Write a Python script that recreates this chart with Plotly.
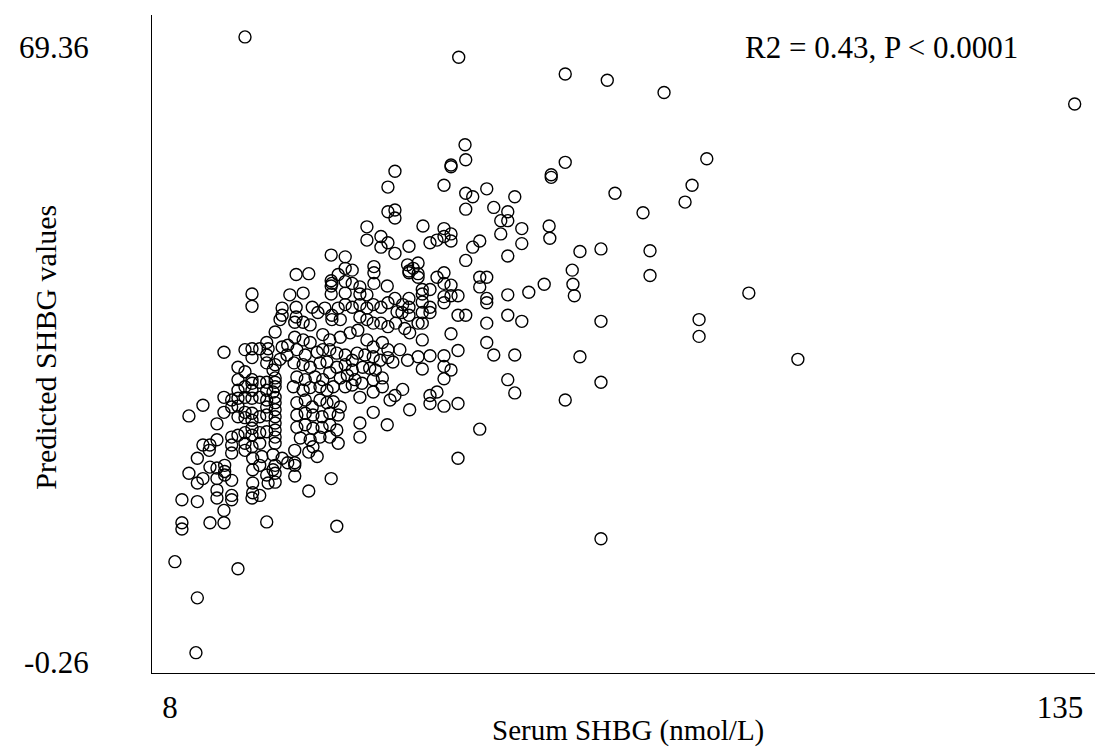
import plotly.graph_objects as go

# ---- data (Serum SHBG, Predicted SHBG) ----
x_outer = [18.7, 49.2, 64.4, 70.4, 78.5, 137.1, 50.1, 84.6, 82.5, 81.5, 71.5, 75.5, 64.4, 62.4, 62.4,
           62.1, 62.2, 66.5, 69.5, 76.5, 76.5, 65.4, 65.5, 65.7, 61.4, 90.6, 69.5, 83.5, 83.5, 97.6,
           66.5, 64.4, 69.5, 69.5, 11.7]
y_outer = [70.5, 68.2, 66.3, 65.6, 64.2, 62.9, 58.3, 56.7, 53.7, 51.8, 52.8, 50.6, 56.3, 54.9, 54.6,
           49.1, 47.7, 46.2, 46.5, 46.3, 43.5, 44.1, 42.5, 41.2, 42.5, 41.5, 38.3, 38.5, 36.6, 34.0,
           34.3, 29.4, 31.4, 13.7, 0.8]

x_upmid = [19.7, 40.1, 39.1, 39.1, 40.1, 40.1, 36.1, 36.1, 38.1, 38.1, 39.1, 40.1, 42.1, 31.0, 33.0,
           26.0, 27.8, 33.0, 34.0, 37.1, 37.1, 32.0, 31.0, 31.1, 31.0, 33.0, 34.0, 35.1, 37.1, 39.0,
           41.9, 42.1, 42.1, 42.7, 27.0, 25.1, 31.0, 33.0, 35.1, 36.1, 40.1, 42.1]
y_upmid = [41.4, 55.3, 53.5, 50.7, 50.9, 50.0, 49.0, 47.5, 47.9, 46.7, 47.2, 46.0, 46.8, 45.8, 45.6,
           43.6, 43.7, 44.3, 44.1, 44.5, 43.8, 43.6, 42.9, 42.6, 42.3, 42.8, 42.6, 42.2, 42.6, 42.3,
           44.7, 44.0, 43.8, 44.3, 41.5, 41.3, 41.4, 41.5, 41.4, 41.3, 40.9, 40.9]

x_upright = [50.2, 48.1, 48.1, 47.1, 50.2, 51.2, 53.2, 57.2, 50.2, 54.2, 56.2, 55.2, 56.2, 58.2, 55.2,
             58.2, 44.1, 47.1, 48.1, 47.1, 48.1, 45.1, 46.1, 52.2, 51.2, 56.2, 50.2, 43.4, 43.4, 43.4,
             46.1, 47.1, 47.1, 48.1, 52.2, 53.2, 52.2, 44.0, 44.0, 45.1, 47.1, 49.1, 48.1, 53.2, 56.2,
             59.2]
y_upright = [56.6, 55.8, 56.0, 53.7, 52.8, 52.4, 53.3, 52.4, 51.0, 51.2, 50.7, 49.7, 49.7, 48.8, 48.2,
             47.1, 49.1, 48.8, 48.2, 47.9, 47.4, 47.2, 47.5, 47.4, 46.7, 45.7, 45.2, 44.9, 43.7, 43.3,
             43.3, 43.8, 42.6, 42.4, 43.3, 43.3, 42.2, 41.9, 41.4, 41.9, 41.1, 41.2, 41.2, 40.9, 41.3,
             41.6]

x_midright = [44.0, 45.1, 44.0, 45.1, 44.0, 43.4, 47.1, 49.1, 50.2, 53.2, 56.2, 58.2, 53.2, 48.1, 44.0,
              53.2, 49.1, 54.2, 57.2, 43.4, 45.1, 47.1, 44.0, 47.1, 48.1, 47.1, 56.2, 57.2, 45.1, 46.1,
              45.1, 47.1, 49.1, 52.2, 49.1]
y_midright = [40.5, 39.9, 39.3, 39.3, 38.1, 38.1, 40.4, 39.0, 39.0, 40.4, 39.0, 38.3, 38.1, 36.9, 36.2,
              35.9, 35.0, 34.5, 34.5, 34.3, 34.4, 34.4, 32.9, 33.2, 32.8, 31.8, 31.7, 30.2, 29.9, 30.3,
              29.0, 28.7, 29.0, 26.1, 22.8]

x_low = [25.8, 25.8, 25.8, 27.8, 29.0, 25.8, 31.0, 27.8, 31.8, 11.9, 13.7, 14.7, 15.8, 15.8, 15.8,
         16.8, 16.8, 10.7, 11.9, 12.7, 14.7, 14.7, 14.7, 16.8, 16.8, 15.7, 9.7, 11.9, 9.7, 9.7,
         13.7, 15.7, 21.8, 8.7, 17.7, 11.9, 18.7, 19.8, 19.8, 19.8, 19.8, 19.7, 20.8, 21.1, 20.8,
         22.7, 23.0, 24.0, 22.7, 23.0, 23.0, 21.8, 22.0, 24.8, 13.6]
y_low = [23.7, 22.3, 22.0, 23.5, 23.0, 20.8, 20.5, 19.1, 15.1, 22.8, 21.8, 21.7, 22.0, 21.3, 20.9,
         23.4, 20.3, 21.1, 20.0, 20.5, 20.5, 19.2, 18.3, 18.6, 18.1, 16.9, 18.1, 17.9, 15.5, 14.8,
         15.5, 15.5, 15.6, 11.1, 10.3, 7.0, 23.7, 22.8, 21.5, 20.0, 18.9, 18.3, 18.6, 23.0, 22.0,
         23.2, 22.0, 22.8, 21.5, 21.1, 20.1, 20.9, 20.0, 22.3, 23.7]

x_left = [19.7, 24.0, 24.0, 23.7, 23.0, 15.7, 18.7, 19.7, 19.7, 20.8, 21.8, 22.0, 21.8, 24.0, 24.8,
          24.7, 23.7, 21.8, 23.0, 22.7, 23.0, 23.0, 23.0, 22.7, 23.0, 23.0, 23.0, 23.0, 23.0, 23.0,
          23.0, 23.0, 17.7, 18.7, 19.7, 19.7, 17.7, 18.7, 17.7, 19.7, 20.8, 21.8, 21.8, 21.8, 21.8,
          21.8, 15.7, 16.8, 17.7, 18.7, 19.7, 20.8, 12.7, 10.7, 14.7, 15.7, 16.8, 17.7, 18.7, 19.7,
          18.7, 19.7, 17.7, 20.8, 14.7, 12.7, 13.7, 16.8, 16.8, 17.7, 18.7, 19.7, 19.7, 20.8, 18.7,
          20.8, 19.7, 21.8]
y_left = [40.0, 39.8, 39.0, 38.5, 37.1, 34.8, 35.1, 35.2, 34.2, 35.2, 35.9, 35.2, 34.5, 35.4, 35.6,
          34.5, 34.0, 33.6, 33.4, 32.8, 31.9, 31.4, 30.9, 30.3, 29.7, 29.1, 28.3, 27.5, 26.8, 26.0,
          25.2, 24.5, 33.1, 32.6, 31.7, 31.3, 31.7, 30.9, 30.5, 30.5, 31.4, 31.4, 30.5, 29.4, 28.6,
          27.7, 29.7, 29.4, 29.6, 29.7, 29.6, 29.7, 28.8, 27.6, 26.7, 28.0, 28.6, 28.7, 28.0, 27.9,
          27.4, 27.1, 27.5, 27.5, 24.9, 24.3, 24.3, 25.2, 24.3, 25.4, 25.7, 26.2, 25.4, 25.7, 24.5,
          24.5, 24.1, 25.8]

x_core_a = [26.0, 26.0, 28.3, 29.1, 30.1, 31.1, 32.0, 33.0, 34.0, 35.1, 36.1, 37.0, 38.1, 39.1, 40.4,
            41.2, 42.1, 42.1, 41.1, 35.1, 36.1, 37.0, 38.1, 39.1, 40.2, 41.5, 42.2, 32.3, 31.1, 28.0,
            27.0, 25.8]
y_core_a = [39.9, 38.8, 39.9, 39.3, 39.8, 39.0, 39.8, 40.2, 39.9, 40.2, 39.8, 40.2, 39.9, 40.4, 39.4,
            40.2, 39.9, 39.0, 39.3, 38.8, 38.5, 38.1, 38.1, 37.7, 38.1, 37.5, 37.0, 38.5, 38.5, 37.9,
            38.2, 38.2]

x_core_b = [25.8, 27.0, 28.0, 29.8, 30.8, 32.3, 33.7, 34.8, 36.1, 37.0, 38.3, 39.1, 40.8, 41.9, 26.1,
            27.3, 29.0, 29.8, 30.8, 31.8, 33.0, 34.0, 34.7, 35.8, 37.0, 38.0, 39.1, 39.8, 25.7, 27.0,
            28.0, 29.4, 30.4, 31.8, 33.0, 34.0, 35.5, 36.5, 37.3]
y_core_b = [36.5, 36.2, 35.9, 36.8, 36.2, 36.5, 37.0, 37.3, 36.2, 35.4, 35.9, 35.1, 35.1, 33.9, 35.1,
            34.5, 34.8, 35.1, 35.1, 34.7, 34.5, 33.9, 34.7, 34.5, 34.3, 33.9, 34.2, 33.7, 33.6, 33.4,
            33.1, 33.6, 33.7, 33.1, 33.4, 32.8, 33.1, 33.0, 32.8]

x_core_c = [26.1, 27.3, 28.7, 29.8, 30.8, 32.3, 33.3, 34.4, 35.4, 37.0, 38.3, 25.6, 27.0, 28.0, 29.4,
            30.4, 31.3, 33.0, 34.0, 35.1, 37.0, 38.3, 39.4, 40.1, 41.2, 42.2, 37.0]
y_core_c = [32.0, 31.7, 32.0, 31.7, 32.5, 31.9, 32.2, 31.7, 31.3, 31.7, 31.9, 30.9, 30.5, 30.8, 30.9,
            30.5, 30.9, 30.9, 31.1, 29.7, 30.3, 30.9, 29.4, 29.9, 30.6, 28.3, 28.0]

x_core_d = [26.1, 27.3, 28.3, 29.4, 30.4, 31.3, 32.3, 26.1, 27.3, 28.4, 29.7, 30.8, 32.0, 26.1, 27.3,
            28.4, 29.7, 30.8, 31.8, 26.6, 28.0, 29.4, 30.8, 32.0, 35.1, 35.1, 39.0, 28.4]
y_core_d = [29.1, 29.4, 28.6, 29.4, 29.1, 29.2, 28.6, 27.7, 27.9, 27.7, 27.5, 27.9, 27.7, 26.3, 26.6,
            26.2, 26.3, 26.6, 26.0, 25.1, 24.9, 25.2, 25.2, 24.5, 26.8, 25.2, 26.6, 24.1]

x_ticks = [8, 135]
x_ticktext = ["8", "135"]
y_ticks = [-0.26, 69.36]
y_ticktext = ["-0.26", "69.36"]

serum = (x_outer + x_upmid + x_upright + x_midright + x_low + x_left
         + x_core_a + x_core_b + x_core_c + x_core_d)
predicted = (y_outer + y_upmid + y_upright + y_midright + y_low + y_left
             + y_core_a + y_core_b + y_core_c + y_core_d)

FONT = "Liberation Serif, Times New Roman, serif"

fig = go.Figure(go.Scatter(
    x=serum, y=predicted, mode="markers", showlegend=False, hoverinfo="skip",
    marker=dict(symbol="circle-open", size=12, color="black",
                line=dict(width=1.4, color="black")),
))

fig.update_layout(
    width=1095, height=749,
    margin=dict(l=152, r=0, t=15, b=76),
    paper_bgcolor="white", plot_bgcolor="white",
    font=dict(family=FONT, size=31, color="black"),
    annotations=[
        dict(text="R2 = 0.43, P &lt; 0.0001", xref="paper", yref="paper",
             x=0.774, y=0.951, xanchor="center", yanchor="middle",
             showarrow=False, font=dict(family=FONT, size=31, color="black")),
        dict(text="Predicted SHBG values", xref="paper", yref="paper",
             x=-0.113, y=0.495, xanchor="center", yanchor="middle", textangle=-90,
             showarrow=False, font=dict(family=FONT, size=30, color="black")),
        dict(text="Serum SHBG (nmol/L)", xref="paper", yref="paper",
             x=0.505, y=-0.087, xanchor="center", yanchor="middle",
             showarrow=False, font=dict(family=FONT, size=29, color="black")),
    ],
)

fig.update_xaxes(
    range=[5.43, 140.0], tickvals=x_ticks, ticktext=x_ticktext,
    showgrid=False, zeroline=False, showline=True, linecolor="black", linewidth=1.3,
    ticks="outside", ticklen=7, tickcolor="rgba(0,0,0,0)",
)
fig.update_yaxes(
    range=[-1.505, 72.98], tickvals=y_ticks, ticktext=y_ticktext,
    showgrid=False, zeroline=False, showline=True, linecolor="black", linewidth=1.3,
    ticks="outside", ticklen=56, tickcolor="rgba(0,0,0,0)",
)

fig.write_html("out.html")
